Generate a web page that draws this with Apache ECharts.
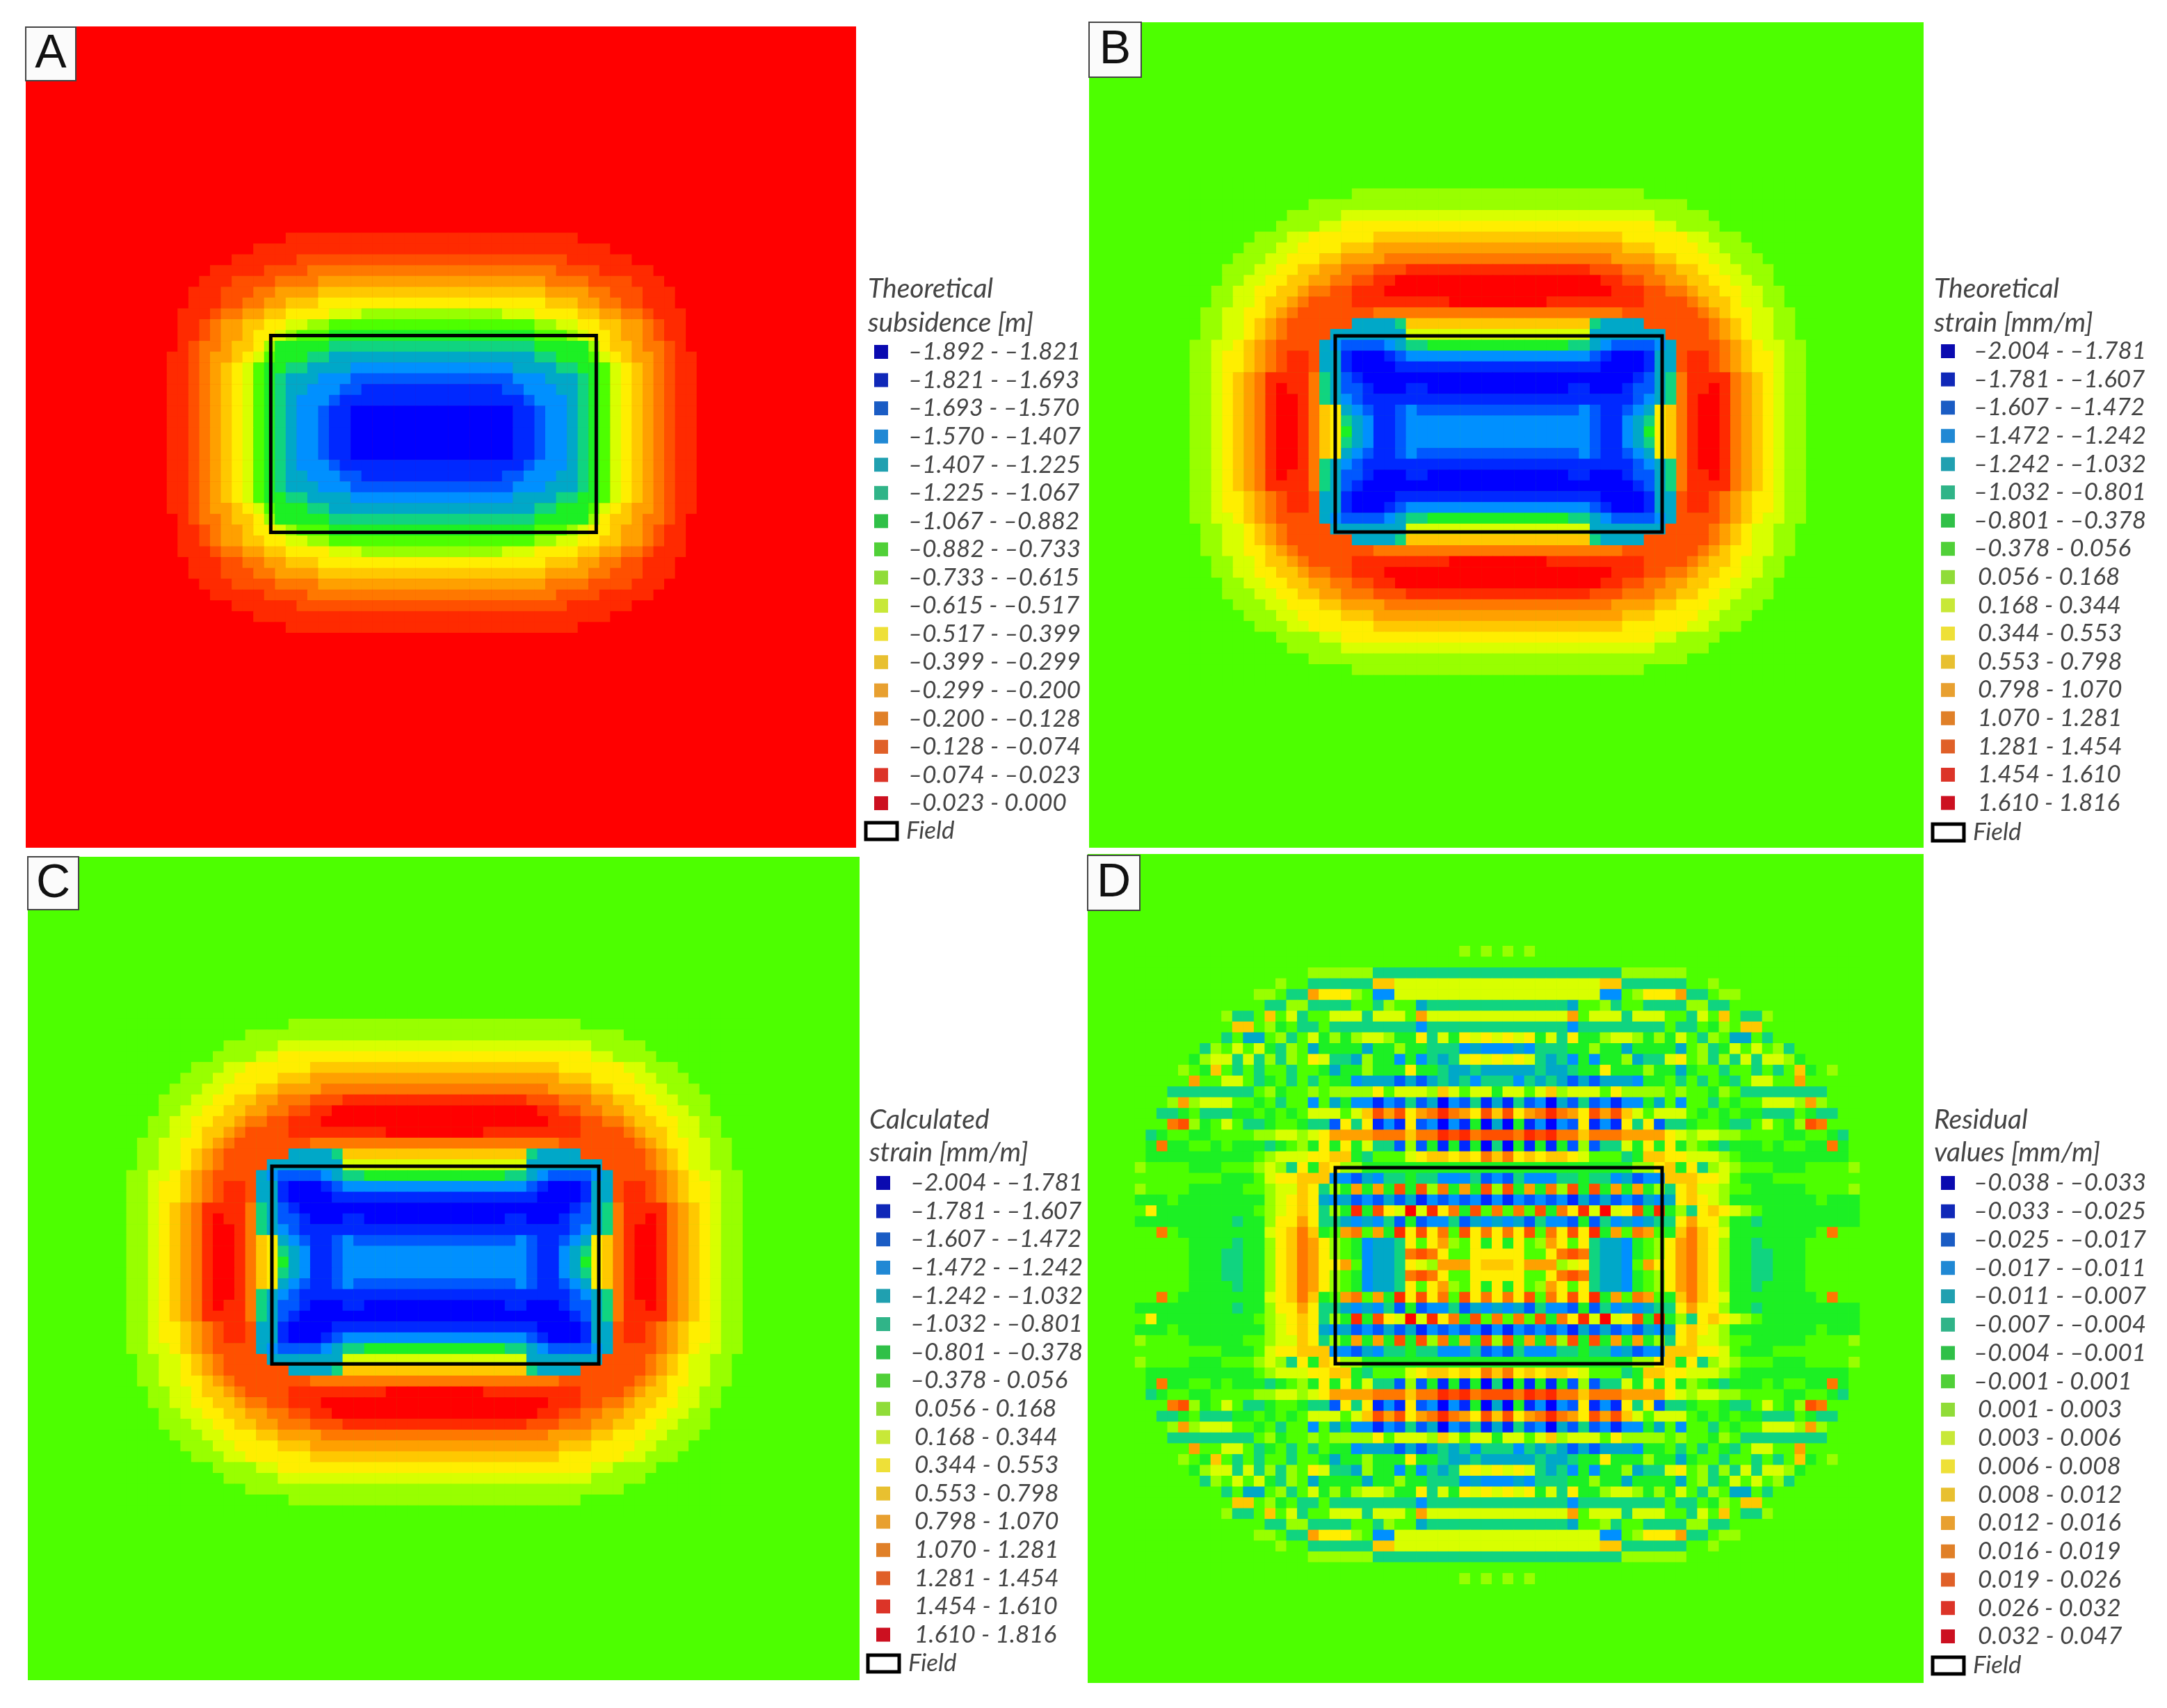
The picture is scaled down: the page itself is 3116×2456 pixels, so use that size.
<!DOCTYPE html>
<html>
<head>
<meta charset="utf-8">
<title>Subsidence and strain maps</title>
<script src="https://cdn.jsdelivr.net/npm/echarts@6/dist/echarts.min.js"></script>
<style>
html,body{margin:0;padding:0;background:#fff;}
#main{width:3116px;height:2456px;}
</style>
</head>
<body>
<div id="main"></div>
<script>
// map colours, one per legend class, 0 = lowest class ... g = highest class
var classColors = ['#0000ff','#0028ff','#0058ff','#0090ff','#00a8c8','#10d480','#1cf024','#4dff00','#98ff00','#d8ff00','#ffee00','#ffc800','#ffa000','#ff7800','#ff5000','#ff2a00','#ff0000'];
var legendColors = ['#0a0ab0','#1028b8','#1a5cc4','#2088d4','#20a0b0','#30b488','#30c048','#50d038','#90dc38','#c8e838','#eee038','#e8c030','#e8a030','#e08028','#e06028','#dc3428','#cc1020'];

// legend class edges
var edgesA = ['–1.892','–1.821','–1.693','–1.570','–1.407','–1.225','–1.067','–0.882','–0.733','–0.615','–0.517','–0.399','–0.299','–0.200','–0.128','–0.074','–0.023','0.000'];
var edgesB = ['–2.004','–1.781','–1.607','–1.472','–1.242','–1.032','–0.801','–0.378','0.056','0.168','0.344','0.553','0.798','1.070','1.281','1.454','1.610','1.816'];
var edgesD = ['–0.038','–0.033','–0.025','–0.017','–0.011','–0.007','–0.004','–0.001','0.001','0.003','0.006','0.008','0.012','0.016','0.019','0.026','0.032','0.047'];

// the maps are symmetric so only the upper left quarter is read off the picture,
// one char per cell = class index, last row/col is the centre line
var rowsA = [
	'gggggggggggggggggggggggggg',
	'ggggggggggggffffffffffffff',
	'gggggggggfffffffffffffffff',
	'gggggggffffffeeeeeeeeeeeee',
	'gggggfffffeeeedddddddddddd',
	'ggggfffeeeeddddccccccccccc',
	'gggfffeeeddccccbbbbbbbbbbb',
	'gggfffeeddccbbbaaaaaaaaaaa',
	'ggfffeddccbbaaaa9998888888',
	'ggffedccbbaa99887777777777',
	'ggffedccbaa98777' + '6666666666',
	'ggfeddcbba866666' + '5555555555',
	'gffedccba9766655' + '4444444444',
	'gffedcba976655444433333333',
	'gffedcba97654443332' + '2222222',
	'gffedcba97654433322' + '1111111',
	'gffedcba976543332' + '111111111',
	'gffedcba976543321' + '100000000',
	'gffedcba976543321' + '100000000',
	'gffedcba976543321' + '100000000'
];
var rowsB = [
	'777777777777777777777777777777',
	'777777777777777788888888888888',
	'777777777777888888888888888888',
	'777777777788888999999999999999',
	'77777777788889' + '9aaaaaaaaaaaaaaa',
	'777777788899aaaaaabbbbbbbbbbbb',
	'77777788899aaaabbbcccccccccccc',
	'7777788899aaabbccccddddddddddd',
	'777788899aabbccdddeeefffffffff',
	'77778899aabbccddeeffgggggggggg',
	'7778899aabbcddeefffggggggggggg',
	'77788' + '99abbcdeeeefffffffffggggg',
	'7788' + '99aabcdeeeeeeedddddddddddd',
	'778899abcdeeeeee44445bbbbbbbbb',
	'778899abcdeeee44444449' + '99999999',
	'7889' + '9abcdeeee4322223' + '4556666666',
	'7889aabcdeffe441000123' + '33333333',
	'7889aabcdeffe44100001111111111',
	'7889abcdffffd5421' + '0000000000000',
	'7889abcdfgffd54221000110000000',
	'7889abcdfggfd5432' + '1111111111111',
	'7889abcdfggfdba4321123' + '22222222',
	'7889abcdfggfdba5431123' + '33333333',
	'7889abcdfggfdba6431123' + '33333333'
];
var rowsD = [
	'777777777777777' + '7777777777777778787',
	'777777777777777' + '7777777777777777777',
	'777777777777777' + '7888888555555555555',
	'777777777777787' + '7555555bb9999999999',
	'777777777778875' + '5caaa87339999999999',
	'777777777777558' + '8555577587745555555',
	'777777778557b79' + '5779995999' + '7c9999999',
	'777777777bb7867' + '5575555555535555555',
	'777777775744' + '785' + '7968' + '689986' + '6a596a9a9',
	'777777587979658' + '7466664668665553433',
	'777776899' + '595858' + '7a955486636354' + '59a9a',
	'777787' + '6b757577' + '57' + '7646686' + '66a66' + '54454' + '44',
	'77777c7799756' + '75' + '7576634442' + '42454' + '5355',
	'777555555557867' + '7878888a79998b97996',
	'7778c8999776757' + '7374633132524032514',
	'775567555667676' + '799979becea' + 'cdfdcaeb',
	'777de8679755677' + '6552a5a131a23031604',
	'756776677778899' + '89accccdddbddfefdee',
	'76d667767666567' + '86a6a695528261616' + '05',
	'766666666667899' + '9aabb657779abbabadb',
	'877776667778985' + 'a6ba88' + '6666666666666',
	'777777776667' + '9aa' + 'bbb3324355655333523',
	'877776666677899' + 'ba586c6c6e6e8d6c6e8',
	'666766666666' + '89a' + 'ba4342324241323231' + '3',
	'7a6666666667' + '89a' + 'ba586f6ea9' + 'g9fad6e7d7',
	'666666666566' + '8aa' + 'ca5543435262335243' + '4',
	'77d766666666' + '9ab' + 'db67cd7c6faead7eada',
	'777776666566' + '8ab' + 'dca876344' + '5a7ac87a6a',
	'777776665566' + '8ab' + 'dca876344' + '5ded' + 'a77aaa',
	'777776665566' + '8ab' + 'dcaac7344' + '5a98cccabb'
];

// field outline in map cells: left, right, top, bottom
var fieldA = [10.6, 40.7, 10.5, 28.7];
var fieldB = [14.45, 44.68, 14.63, 32.76];
var fieldC = [14.45, 44.68, 14.63, 32.9];
var fieldD = [18.52, 48.74, 20.5, 38.63];

var cell = 15.55;
var panels = [
	{name:'A', rows:rowsA, field:fieldA, edges:edgesA, cx:621, cy:622.5, base:16, rect:[37,38,1194,1181], box:[37,39,72,77],
	 title:['Theoretical','subsidence [m]'], tx:1248, ty:[415,464], swatchX:1267, textX:1306, rowY:506, rowStep:40.56, fieldY:1195},
	{name:'B', rows:rowsB, field:fieldB, edges:edgesB, cx:2154, cy:621, base:7, rect:[1566,32,1200,1187], box:[1566,32,75,79],
	 title:['Theoretical','strain [mm/m]'], tx:2781, ty:[415,464], swatchX:2801, textX:2838, rowY:505, rowStep:40.6, fieldY:1197},
	{name:'C', rows:rowsB, field:fieldC, edges:edgesB, cx:625, cy:1815, base:7, rect:[40,1232,1196,1184], box:[40,1232,73,76],
	 title:['Calculated','strain [mm/m]'], tx:1250, ty:[1610,1657], swatchX:1270, textX:1309, rowY:1701, rowStep:40.6, fieldY:2392},
	{name:'D', rows:rowsD, field:fieldD, edges:edgesD, cx:2153, cy:1819, base:7, rect:[1564,1228,1202,1192], box:[1564,1230,75,79],
	 title:['Residual','values [mm/m]'], tx:2781, ty:[1610,1657], swatchX:2801, textX:2838, rowY:1701, rowStep:40.75, fieldY:2395}
];

function mirrorRows(quarter){
	var out = [];
	var i;
	for(i=0;i<quarter.length;i++){
		var s = quarter[i];
		out.push(s + s.slice(0,-1).split('').reverse().join(''));
	}
	for(i=quarter.length-2;i>=0;i--){
		out.push(out[i]);
	}
	return out;
}

function indexList(n){
	var a = [];
	for(var i=0;i<n;i++){ a.push(String(i)); }
	return a;
}

var legendFont = 'Lato, "Open Sans", sans-serif';
var grids = [], xAxes = [], yAxes = [], series = [], graphics = [], heatIdx = [], pieces = [];

classColors.forEach(function(c,i){
	pieces.push({value:i, color:c});
});

panels.forEach(function(p,i){
	var full = mirrorRows(p.rows);
	var rowCount = full.length;
	var colCount = full[0].length;
	var cells = [];
	full.forEach(function(row,y){
		for(var x=0;x<colCount;x++){
			cells.push([x, y, parseInt(row.charAt(x),17)]);
		}
	});

	grids.push({left:p.cx-colCount/2*cell, top:p.cy-rowCount/2*cell, width:colCount*cell, height:rowCount*cell, show:false});
	xAxes.push({type:'category', gridIndex:i, data:indexList(colCount), show:false});
	xAxes.push({type:'value', gridIndex:i, min:0, max:colCount, show:false});
	yAxes.push({type:'category', gridIndex:i, data:indexList(rowCount), inverse:true, show:false});
	yAxes.push({type:'value', gridIndex:i, min:0, max:rowCount, inverse:true, show:false});

	heatIdx.push(series.length);
	series.push({
		type:'heatmap', name:p.name, xAxisIndex:i*2, yAxisIndex:i*2, data:cells,
		progressive:0, silent:true, itemStyle:{borderWidth:0}, emphasis:{disabled:true}
	});
	var f = p.field;
	series.push({
		type:'line', name:'Field', xAxisIndex:i*2+1, yAxisIndex:i*2+1, silent:true, symbol:'none', clip:false, z:5,
		lineStyle:{color:'#000', width:5, join:'miter', cap:'square'},
		data:[[f[0],f[2]],[f[1],f[2]],[f[1],f[3]],[f[0],f[3]],[f[0],f[2]]]
	});

	// flat background of the panel, the map cells sit on top of it
	graphics.push({type:'rect', z:0, shape:{x:p.rect[0], y:p.rect[1], width:p.rect[2], height:p.rect[3]}, style:{fill:classColors[p.base]}});
	// panel letter
	graphics.push({type:'rect', z:20, shape:{x:p.box[0], y:p.box[1], width:p.box[2], height:p.box[3]}, style:{fill:'#fbfbfb', stroke:'#444', lineWidth:2}});
	graphics.push({type:'text', z:21, x:p.box[0]+p.box[2]/2, y:p.box[1]+p.box[3]/2+1, style:{text:p.name, fill:'#111', font:'68px "Liberation Sans"', textAlign:'center', textVerticalAlign:'middle'}});
	// legend
	p.title.forEach(function(t,k){
		graphics.push({type:'text', z:21, x:p.tx, y:p.ty[k], style:{text:t, fill:'#444', font:'italic 39px '+legendFont, textVerticalAlign:'middle'}});
	});
	for(var k=0;k<p.edges.length-1;k++){
		var y = p.rowY + k*p.rowStep;
		graphics.push({type:'rect', z:21, shape:{x:p.swatchX-10, y:y-10, width:20, height:20}, style:{fill:legendColors[k]}});
		var label = p.edges[k] + ' - ' + p.edges[k+1];
		graphics.push({type:'text', z:21, x:p.textX+(label.charAt(0)=='–'?0:6), y:y, style:{text:label, fill:'#444', font:'italic 35px '+legendFont, textVerticalAlign:'middle'}});
	}
	graphics.push({type:'rect', z:21, shape:{x:p.swatchX-22, y:p.fieldY-12, width:45, height:24}, style:{fill:'#fff', stroke:'#000', lineWidth:5}});
	graphics.push({type:'text', z:21, x:p.swatchX+36, y:p.fieldY, style:{text:'Field', fill:'#444', font:'italic 35px '+legendFont, textVerticalAlign:'middle'}});
});

var myChart = echarts.init(document.getElementById('main'), null, {renderer:'canvas'});
myChart.setOption({
	backgroundColor:'#fff',
	animation:false,
	tooltip:{show:false},
	grid:grids,
	xAxis:xAxes,
	yAxis:yAxes,
	visualMap:{type:'piecewise', show:false, dimension:2, seriesIndex:heatIdx, pieces:pieces},
	graphic:graphics,
	series:series
});
</script>
</body>
</html>
